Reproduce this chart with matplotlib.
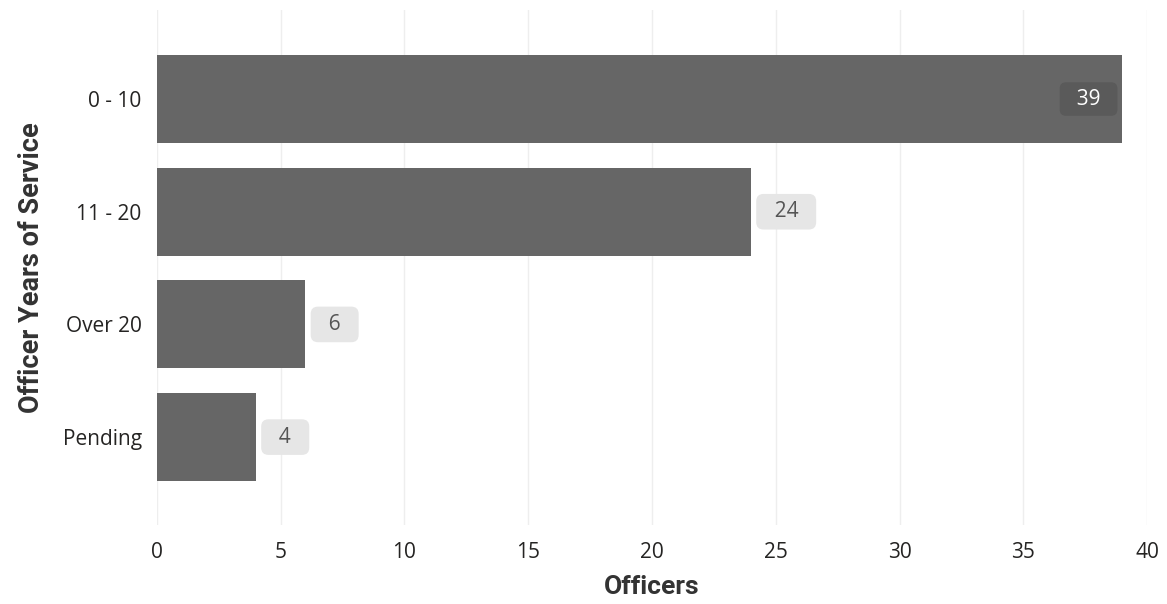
import matplotlib.pyplot as plt

categories = ['0 - 10', '11 - 20', 'Over 20', 'Pending']
officers = [39, 24, 6, 4]

plt.rcParams['font.family'] = ['Open Sans', 'DejaVu Sans']

fig = plt.figure(figsize=(11.67, 6.04), dpi=100)
ax = fig.add_axes([0.1345, 0.1308, 0.8484, 0.8526])

ypos = list(range(len(categories)))[::-1]
ax.barh(ypos, officers, height=0.78, color='#666666', zorder=2)

# data labels: inside the long bar, outside the short ones
for y, v in zip(ypos, officers):
    if v > 30:
        ax.annotate('  %d  ' % v, (v, y), xytext=(-8, 0), textcoords='offset points',
                    ha='right', va='center', fontsize=15, color='white',
                    bbox=dict(boxstyle='round,pad=0.3', fc='#5a5a5a', ec='none'), zorder=3)
    else:
        ax.annotate('  %d  ' % v, (v, y), xytext=(9, 0), textcoords='offset points',
                    ha='left', va='center', fontsize=15, color='#555555',
                    bbox=dict(boxstyle='round,pad=0.35', fc='#e6e6e6', ec='none'), zorder=3)

ax.set_xlim(0, 40)
ax.set_ylim(-0.78, 3.79)
ax.set_xticks(range(0, 41, 5))
ax.set_yticks(ypos)
ax.set_yticklabels(categories)
ax.tick_params(axis='both', length=0, labelsize=15, colors='#252423')
ax.tick_params(axis='x', pad=12)
ax.tick_params(axis='y', pad=11)
ax.grid(axis='x', color='#eeeeee', linewidth=1, zorder=0)
for s in ax.spines.values():
    s.set_visible(False)

ax.set_xlabel('Officers', fontsize=19, fontweight='bold', family='Roboto',
              color='#333333', labelpad=9)
ax.set_ylabel('Officer Years of Service', fontsize=19.5, fontweight='bold', family='Roboto',
              color='#333333', labelpad=13)

fig.savefig('out.png', dpi=100)
